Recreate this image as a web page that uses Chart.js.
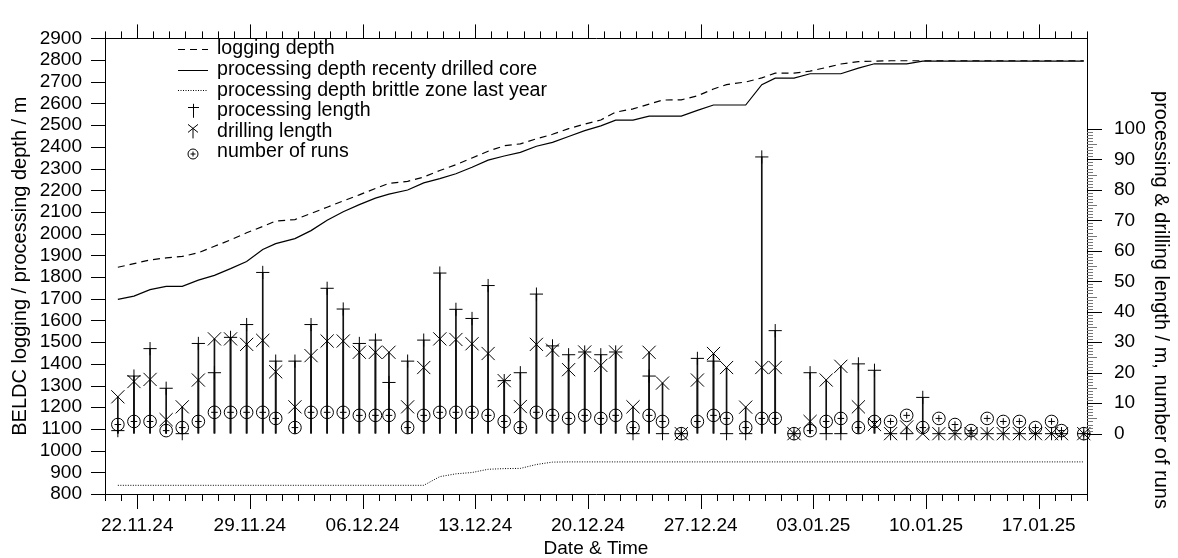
<!DOCTYPE html>
<html>
<head>
<meta charset="utf-8">
<script src="https://cdn.jsdelivr.net/npm/chart.js@4.4.1/dist/chart.umd.min.js"></script>
<style>
  html, body { margin: 0; padding: 0; background: #fff; }
  #wrap { width: 1178px; height: 558px; }
</style>
</head>
<body>
<div id="wrap"><canvas id="beldcChart" width="1178" height="558"></canvas></div>
<script>
// one sample per day (date + time of the daily report)
const sampleTimes = [
    '20.11.24 19:10', '21.11.24 19:10', '22.11.24 19:10', '23.11.24 19:10', '24.11.24 19:10',
    '25.11.24 19:10', '26.11.24 19:10', '27.11.24 19:10', '28.11.24 19:10', '29.11.24 19:10',
    '30.11.24 14:30', '01.12.24 19:10', '02.12.24 19:10', '03.12.24 19:10', '04.12.24 19:10',
    '05.12.24 19:10', '06.12.24 19:10', '07.12.24 15:20', '08.12.24 19:10', '09.12.24 19:10',
    '10.12.24 19:10', '11.12.24 19:10', '12.12.24 19:10', '13.12.24 19:10', '14.12.24 19:10',
    '15.12.24 19:10', '16.12.24 19:10', '17.12.24 19:10', '18.12.24 19:10', '19.12.24 19:10',
    '20.12.24 19:10', '21.12.24 17:20', '22.12.24 19:10', '23.12.24 19:10', '24.12.24 15:10',
    '25.12.24 19:10', '26.12.24 19:10', '27.12.24 19:10', '28.12.24 14:40', '29.12.24 19:10',
    '30.12.24 19:10', '31.12.24 15:10', '01.01.25 19:10', '02.01.25 19:10', '03.01.25 19:10',
    '04.01.25 17:00', '05.01.25 19:10', '06.01.25 19:10', '07.01.25 19:10', '08.01.25 19:10',
    '09.01.25 19:10', '10.01.25 19:10', '11.01.25 19:10', '12.01.25 19:10', '13.01.25 19:10',
    '14.01.25 19:10', '15.01.25 19:10', '16.01.25 19:10', '17.01.25 19:10', '18.01.25 10:00',
    '19.01.25 19:10'
];

// left axis, m
const loggingDepth = [
    1845, 1862, 1879, 1888, 1895, 1912, 1942, 1971, 2004, 2033,
    2058, 2065, 2093, 2122, 2151, 2179, 2208, 2232, 2241, 2261,
    2291, 2318, 2349, 2380, 2405, 2414, 2437, 2458, 2484, 2505,
    2524, 2560, 2575, 2597, 2616, 2617, 2635, 2667, 2687, 2699,
    2718, 2740, 2740, 2749, 2766, 2782, 2793, 2795, 2797, 2797,
    2797, 2797, 2797, 2797, 2797, 2797, 2797, 2797, 2797, 2797,
    2797
];
const processingDepth = [
    1697, 1712, 1742, 1757, 1757, 1786, 1808, 1839, 1872, 1927,
    1954, 1977, 2014, 2062, 2101, 2134, 2164, 2182, 2201, 2234,
    2254, 2276, 2306, 2339, 2358, 2375, 2403, 2421, 2448, 2475,
    2497, 2523, 2523, 2542, 2542, 2542, 2568, 2593, 2593, 2593,
    2687, 2717, 2717, 2737, 2737, 2737, 2763, 2783, 2783, 2783,
    2795, 2795, 2795, 2795, 2795, 2795, 2795, 2795, 2795, 2795,
    2795
];
const brittleDepth = [
    840, 840, 840, 840, 840, 840, 840, 840, 840, 840,
    840, 840, 840, 840, 840, 840, 840, 840, 840, 840,
    880, 893, 899, 914, 917, 918, 936, 947, 948, 948,
    948, 948, 948, 948, 948, 948, 948, 948, 948, 948,
    948, 948, 948, 948, 948, 948, 948, 948, 948, 948,
    948, 948, 948, 948, 948, 948, 948, 948, 948, 948,
    948
];

// right axis, m and count
const processingLength = [
    1, 18.9, 27.9, 14.9, 0, 29.6, 20, 31.6, 35.8, 52.9,
    23.8, 23.8, 35.8, 47.7, 40.9, 29.6, 30.7, 16.8, 23.8, 30.7,
    52.7, 40.8, 37.8, 48.6, 17.4, 20, 45.8, 28.8, 25.9, 26.8,
    25.9, 26.8, 0, 18.9, 0, 0, 24.7, 23.8, 0, 0,
    90.8, 33.8, 0, 20, 0, 0, 22.9, 20.8, 0, 0,
    11.9, 0, 0, 0, 0, 0, 0, 0, 0, 0,
    0
];
const drillingLength = [
    12.1, 17.1, 17.8, 4.6, 8.8, 17.6, 31.1, 31.1, 29.3, 30.6,
    20.3, 8.8, 25.6, 30.4, 30.4, 26.7, 26.7, 26.7, 8.8, 21.7,
    31.1, 30.9, 29.5, 26.3, 17.4, 8.9, 29.3, 27.4, 21, 26.8,
    22.4, 26.8, 8.8, 26.7, 16.6, 0, 17.6, 26.3, 21.7, 8.7,
    21.7, 21.7, 0, 4, 17.6, 22.1, 8.8, 3, 0, 2.2,
    0, 0, 0, 0, 0, 0, 0, 0, 0, 0,
    0
];
const numberOfRuns = [
    3, 4, 4, 1, 2, 4, 7, 7, 7, 7,
    5, 2, 7, 7, 7, 6, 6, 6, 2, 6,
    7, 7, 7, 6, 4, 2, 7, 6, 5, 6,
    5, 6, 2, 6, 4, 0, 4, 6, 5, 2,
    5, 5, 0, 1, 4, 5, 2, 4, 4, 6,
    2, 5, 3, 1, 5, 4, 4, 2, 4, 1,
    0
];

const dateTickLabels = ['22.11.24', '29.11.24', '06.12.24', '13.12.24', '20.12.24',
                        '27.12.24', '03.01.25', '10.01.25', '17.01.25'];
const depthTicks = [800, 900, 1000, 1100, 1200, 1300, 1400, 1500, 1600, 1700, 1800,
                    1900, 2000, 2100, 2200, 2300, 2400, 2500, 2600, 2700, 2800, 2900];
const lengthTicks = [0, 10, 20, 30, 40, 50, 60, 70, 80, 90, 100];

const axisStart = Date.UTC(2024, 10, 20);
const axisEnd = Date.UTC(2025, 0, 20);
const FONT = "'Liberation Sans', Arial, Helvetica, sans-serif";

function toDays(s) {
    const [d, t] = s.split(' ');
    const [dd, mm, yy] = d.split('.').map(Number);
    const [hh, mi] = (t || '00:00').split(':').map(Number);
    return (Date.UTC(2000 + yy, mm - 1, dd, hh, mi) - axisStart) / 86400000;
}

const xs = sampleTimes.map(toDays);
const pts = arr => arr.map((v, i) => ({ x: xs[i], y: v }));

function depthLine(label, values, dash, width) {
    return {
        type: 'line', label: label, data: pts(values), yAxisID: 'y',
        borderColor: '#000', borderWidth: width, borderDash: dash,
        pointRadius: 0, tension: 0, fill: false
    };
}

function markers(label, values, style, radius, clip) {
    return {
        type: 'line', label: label, data: pts(values), yAxisID: 'y2',
        showLine: false, pointStyle: style, pointRadius: radius,
        pointBorderColor: '#000', pointBackgroundColor: 'rgba(0,0,0,0)',
        pointBorderWidth: 1, clip: clip
    };
}

function stems(label, values) {
    return {
        type: 'bar', label: label, data: pts(values), yAxisID: 'y2',
        backgroundColor: '#111', borderWidth: 0, barThickness: 1, grouped: false
    };
}

// tick marks, top frame line, right ruler and right title
const frameTicks = {
    id: 'frameTicks',
    afterDraw(chart) {
        const { ctx, chartArea: a, scales } = chart;
        const x = scales.x, y = scales.y, y2 = scales.y2;
        const majorDays = dateTickLabels.map(toDays);
        ctx.save();
        ctx.lineWidth = 1;
        ctx.strokeStyle = '#000';
        ctx.beginPath();
        const top = Math.round(a.top) + 0.5;
        ctx.moveTo(a.left, top);
        ctx.lineTo(a.right + 1, top);
        for (let d = 0; d <= x.max + 1e-6; d++) {
            const px = Math.round(x.getPixelForValue(d)) + 0.5;
            const major = majorDays.some(m => Math.abs(m - d) < 1e-6);
            ctx.moveTo(px, a.bottom);
            ctx.lineTo(px, a.bottom + (major ? 15 : 7));
            ctx.moveTo(px, a.top);
            ctx.lineTo(px, a.top - (major ? 14 : 7));
        }
        depthTicks.forEach(v => {
            const py = Math.round(y.getPixelForValue(v)) + 0.5;
            ctx.moveTo(a.left - 14, py);
            ctx.lineTo(a.left, py);
        });
        ctx.stroke();

        for (let v = 0; v <= 100; v++) {
            const py = Math.round(y2.getPixelForValue(v)) + 0.5;
            const len = v % 10 === 0 ? 15 : (v % 5 === 0 ? 10 : 6);
            ctx.strokeStyle = v % 10 === 0 ? '#000' : '#777';
            ctx.beginPath();
            ctx.moveTo(a.right, py);
            ctx.lineTo(a.right + len, py);
            ctx.stroke();
        }

        ctx.fillStyle = '#000';
        ctx.font = '20px ' + FONT;
        ctx.textAlign = 'center';
        ctx.textBaseline = 'middle';
        ctx.translate(1161, 300);
        ctx.rotate(Math.PI / 2);
        ctx.fillText('processing & drilling length / m, number of runs', 0, 0);
        ctx.restore();
    }
};

// legend drawn inside the plot, top left
const legendRows = [
    { label: 'logging depth', kind: 'dash' },
    { label: 'processing depth recenty drilled core', kind: 'solid' },
    { label: 'processing depth brittle zone last year', kind: 'dot' },
    { label: 'processing length', kind: 'plus' },
    { label: 'drilling length', kind: 'cross' },
    { label: 'number of runs', kind: 'runs' }
];

const legendBox = {
    id: 'legendBox',
    afterDraw(chart) {
        const ctx = chart.ctx;
        const x0 = 178, x1 = 208, xc = 193, tx = 217;
        ctx.save();
        ctx.strokeStyle = '#000';
        ctx.fillStyle = '#000';
        ctx.lineWidth = 1;
        ctx.font = '19.6px ' + FONT;
        ctx.textAlign = 'left';
        ctx.textBaseline = 'middle';
        legendRows.forEach((row, i) => {
            const yc = 49 + i * 20.6;
            const yl = Math.round(yc) + 0.5;
            ctx.beginPath();
            if (row.kind === 'dash' || row.kind === 'solid' || row.kind === 'dot') {
                ctx.setLineDash(row.kind === 'dash' ? [7, 5] : row.kind === 'dot' ? [1, 1.5] : []);
                ctx.moveTo(x0, yl);
                ctx.lineTo(x1, yl);
            } else if (row.kind === 'plus') {
                ctx.moveTo(xc + 0.5, yc - 7);
                ctx.lineTo(xc + 0.5, yc + 7);
                ctx.moveTo(xc - 5, yl - 4);
                ctx.lineTo(xc + 6, yl - 4);
            } else if (row.kind === 'cross') {
                ctx.moveTo(xc - 5, yc - 7);
                ctx.lineTo(xc + 5, yc + 1);
                ctx.moveTo(xc + 5, yc - 7);
                ctx.lineTo(xc - 5, yc + 1);
                ctx.moveTo(xc, yc - 3);
                ctx.lineTo(xc, yc + 7);
            } else {
                ctx.arc(xc, yc + 2, 5, 0, Math.PI * 2);
                ctx.moveTo(xc - 2.5, yc + 2);
                ctx.lineTo(xc + 2.5, yc + 2);
                ctx.moveTo(xc, yc - 0.5);
                ctx.lineTo(xc, yc + 4.5);
            }
            ctx.stroke();
            ctx.setLineDash([]);
            ctx.fillText(row.label, tx, yc);
        });
        ctx.restore();
    }
};

const tickFont = { family: FONT, size: 19 };

new Chart(document.getElementById('beldcChart'), {
    type: 'line',
    data: {
        datasets: [
            markers('number of runs', numberOfRuns, 'circle', 6.3, false),
            markers('number of runs (inner)', numberOfRuns, 'cross', 3.3, false),
            markers('drilling length', drillingLength, 'crossRot', 9.3, false),
            markers('processing length', processingLength, 'cross', 6.6, false),
            stems('processing length stem', processingLength),
            stems('drilling length stem', drillingLength),
            depthLine('logging depth', loggingDepth, [7, 5], 1.2),
            depthLine('processing depth recenty drilled core', processingDepth, [], 1.2),
            depthLine('processing depth brittle zone last year', brittleDepth, [1, 1.5], 1)
        ]
    },
    options: {
        responsive: false,
        devicePixelRatio: 1,
        animation: false,
        events: [],
        layout: { padding: { top: 26, left: 0, right: 0, bottom: 0 } },
        plugins: {
            legend: { display: false },
            tooltip: { enabled: false }
        },
        scales: {
            x: {
                type: 'linear',
                position: 'bottom',
                min: 0,
                max: (axisEnd - axisStart) / 86400000,
                offset: false,
                afterFit: s => { s.height = 64; },
                afterBuildTicks: s => { s.ticks = dateTickLabels.map(l => ({ value: toDays(l) })); },
                ticks: {
                    autoSkip: false, maxRotation: 0, padding: 20, color: '#000', font: tickFont,
                    callback: (v, i) => dateTickLabels[i]
                },
                grid: { drawOnChartArea: false, drawTicks: false },
                border: { color: '#000', width: 1 },
                title: {
                    display: true, text: 'Date & Time', color: '#000',
                    font: { family: FONT, size: 19, lineHeight: 1 }, padding: { top: 0, bottom: 0 }
                }
            },
            y: {
                type: 'linear',
                position: 'left',
                min: 800,
                max: 2900,
                afterFit: s => { s.width = 105; },
                afterBuildTicks: s => { s.ticks = depthTicks.map(v => ({ value: v })); },
                ticks: {
                    autoSkip: false, padding: 23, color: '#000', font: tickFont,
                    callback: v => String(v)
                },
                grid: { drawOnChartArea: false, drawTicks: false },
                border: { color: '#000', width: 1 },
                title: {
                    display: true, text: 'BELDC logging / processing depth / m', color: '#000',
                    font: { family: FONT, size: 20, lineHeight: 1 }, padding: { top: 10, bottom: 0 }
                }
            },
            y2: {
                type: 'linear',
                position: 'right',
                min: -19.8,
                max: 129.7,
                afterFit: s => { s.width = 91; },
                afterBuildTicks: s => { s.ticks = lengthTicks.map(v => ({ value: v })); },
                ticks: {
                    autoSkip: false, padding: 27, color: '#000', font: tickFont,
                    callback: v => String(v)
                },
                grid: { drawOnChartArea: false, drawTicks: false },
                border: { color: '#000', width: 1 }
            }
        }
    },
    plugins: [frameTicks, legendBox]
});
</script>
</body>
</html>
